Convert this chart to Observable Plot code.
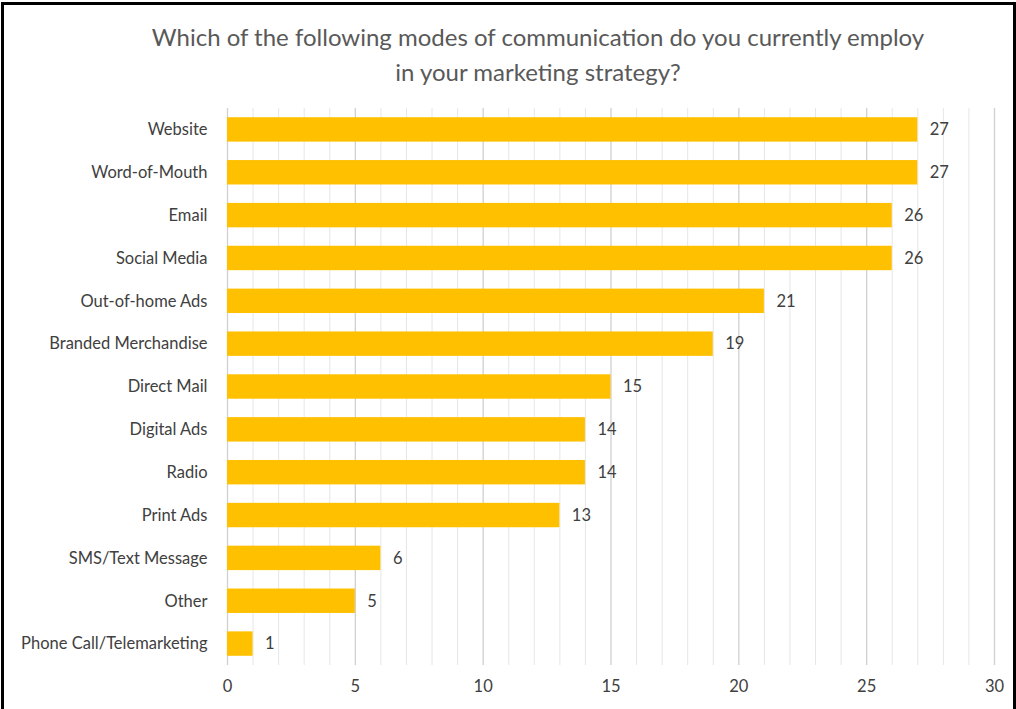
<!DOCTYPE html>
<html>
<head>
<meta charset="utf-8">
<script src="https://cdn.jsdelivr.net/npm/d3@7"></script>
<script src="https://cdn.jsdelivr.net/npm/@observablehq/plot@0.6"></script>
<style>
  html, body { margin: 0; padding: 0; background: #fff; }
  #frame { position: absolute; left: 1px; top: 2px; width: 1009px; height: 720px; border: 3px solid #000; border-bottom: none; }
  #title { position: absolute; left: 30px; top: 19px; width: 1016px; text-align: center; font-family: Lato, "Open Sans", sans-serif; font-size: 24px; line-height: 35px; color: #595959; }
  #chart { position: absolute; left: 0; top: 100px; }
  #chart text { font-family: Lato, "Open Sans", sans-serif; }
</style>
</head>
<body>
<div id="frame"></div>
<div id="title">Which of the following modes of communication do you currently employ<br>in your marketing strategy?</div>
<div id="chart"></div>
<script>
const categories = ["Website","Word-of-Mouth","Email","Social Media","Out-of-home Ads","Branded Merchandise","Direct Mail","Digital Ads","Radio","Print Ads","SMS/Text Message","Other","Phone Call/Telemarketing"];
const values = [27,27,26,26,21,19,15,14,14,13,6,5,1];
const xTicks = [0,5,10,15,20,25,30];
const gridValues = d3.range(0, 31);

const data = categories.map((c, i) => ({category: c, value: values[i]}));

const plot = Plot.plot({
  width: 1016,
  height: 609,
  marginLeft: 227,
  marginRight: 22,
  marginTop: 8,
  marginBottom: 44,
  style: {fontSize: "16.5px", color: "#404040", background: "transparent"},
  x: {domain: [0, 30], ticks: xTicks, tickSize: 0, tickPadding: 15, label: null},
  y: {domain: categories, paddingInner: 0.43, paddingOuter: 0.215, round: false, tickSize: 0, tickPadding: 20, label: null},
  marks: [
    Plot.ruleX(gridValues.filter(d => d % 5 !== 0), {stroke: "#e6e6e6", strokeWidth: 1}),
    Plot.ruleX(gridValues.filter(d => d % 5 === 0), {stroke: "#d0d0d0", strokeWidth: 1.3}),
    Plot.barX(data, {x: "value", y: "category", fill: "#FFC000"}),
    Plot.text(data, {x: "value", y: "category", text: d => String(d.value), textAnchor: "start", dx: 12, fill: "#404040", fontSize: 16.5})
  ]
});
document.getElementById("chart").appendChild(plot);
</script>
</body>
</html>
